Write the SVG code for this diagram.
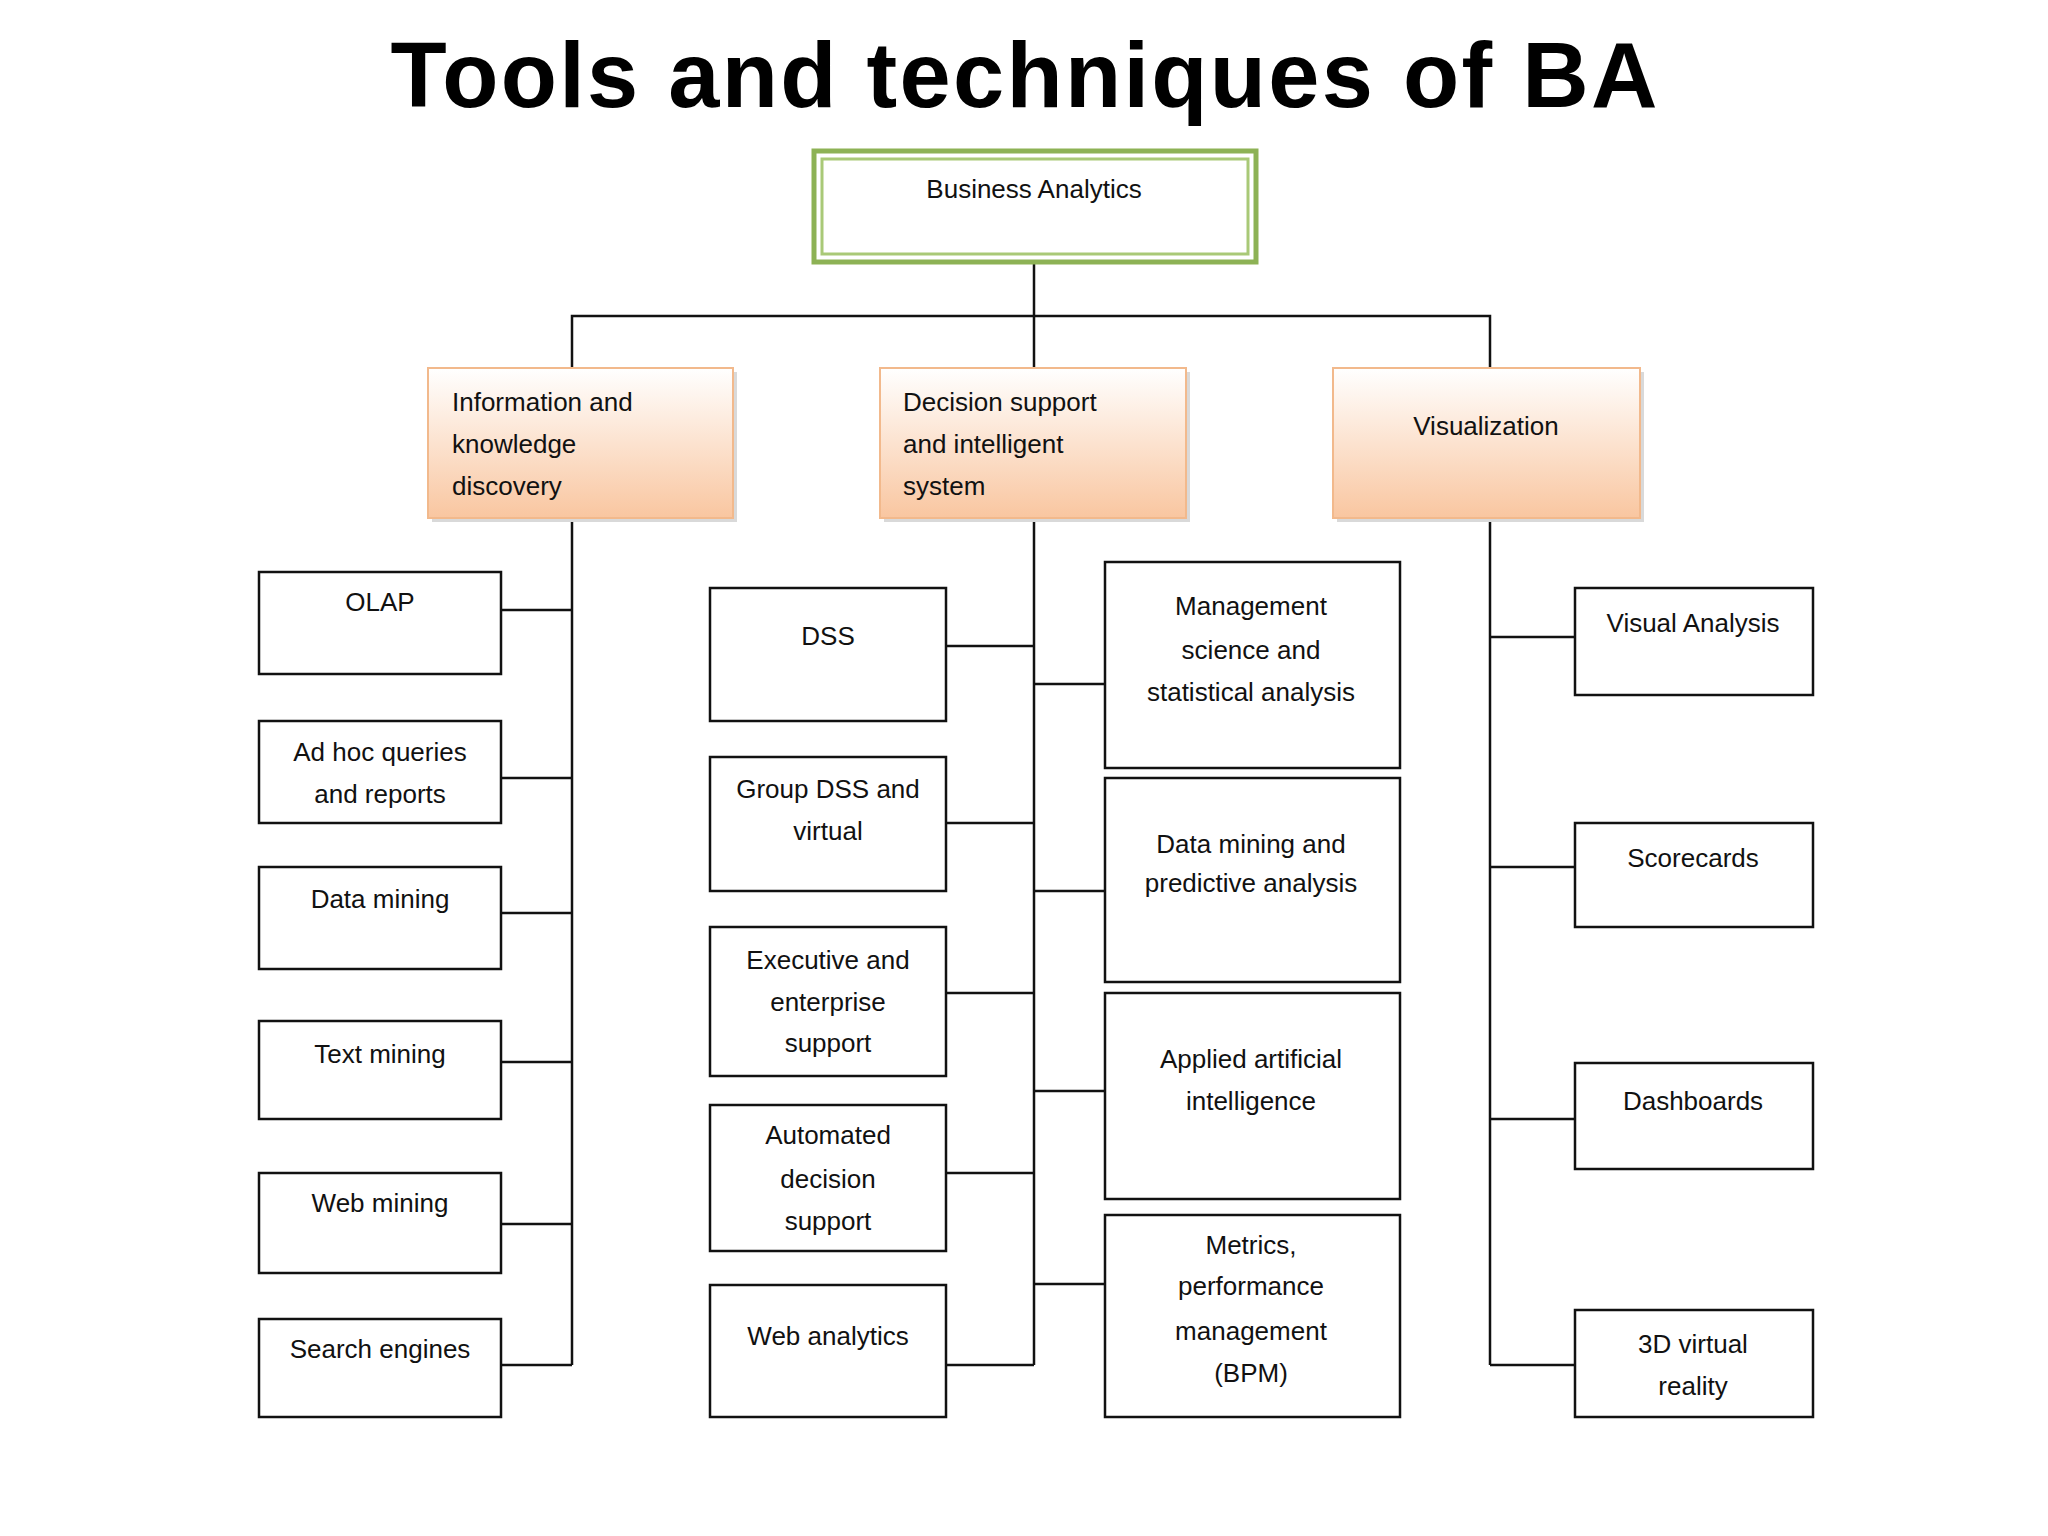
<svg xmlns="http://www.w3.org/2000/svg" width="2048" height="1536" viewBox="0 0 2048 1536">
<defs>
<linearGradient id="peach" x1="0" y1="0" x2="0" y2="1"><stop offset="0" stop-color="#ffffff"/><stop offset="1" stop-color="#f9c6a0"/></linearGradient>
<style>
.t{font-family:"Liberation Sans",Arial,sans-serif;font-size:26px;fill:#111;text-anchor:middle}
.l{text-anchor:start}
.b{fill:#fff;stroke:#111;stroke-width:2.5}
.c{fill:url(#peach);stroke:#f2b98c;stroke-width:2}
.sh{fill:#d9d9d9}
.k{stroke:#111;stroke-width:2.5;fill:none}
</style>
</defs>
<rect width="2048" height="1536" fill="#fff"/>
<text x="1024" y="107" font-family="Liberation Sans,Arial,sans-serif" font-weight="bold" font-size="92" text-anchor="middle" textLength="1267" fill="#000">Tools and techniques of BA</text>
<g id="connectors" class="k">
<path d="M1034 264V368M572 368V316H1490V368M572 518V1365M1034 518V1365M1490 518V1365"/>
<path d="M501 610H572M501 778H572M501 913H572M501 1062H572M501 1224H572M501 1365H572"/>
<path d="M946 646H1034M946 823H1034M946 993H1034M946 1173H1034M946 1365H1034"/>
<path d="M1034 684H1105M1034 891H1105M1034 1091H1105M1034 1284H1105"/>
<path d="M1490 637H1575M1490 867H1575M1490 1119H1575M1490 1365H1575"/>
</g>
<g id="root"><rect x="814" y="151" width="442" height="111" fill="#fff" stroke="#8db255" stroke-width="5"/><rect x="822" y="159" width="426" height="95" fill="none" stroke="#a9c977" stroke-width="3"/><text class="t" x="1034" y="198">Business Analytics</text></g>
<g id="cat1"><rect class="sh" x="432" y="372" width="305" height="150"/><rect class="c" x="428" y="368" width="305" height="150"/><text class="t l" x="452" y="411">Information and</text><text class="t l" x="452" y="453">knowledge</text><text class="t l" x="452" y="495">discovery</text></g>
<g id="cat2"><rect class="sh" x="884" y="372" width="306" height="150"/><rect class="c" x="880" y="368" width="306" height="150"/><text class="t l" x="903" y="411">Decision support</text><text class="t l" x="903" y="453">and intelligent</text><text class="t l" x="903" y="495">system</text></g>
<g id="cat3"><rect class="sh" x="1337" y="372" width="307" height="150"/><rect class="c" x="1333" y="368" width="307" height="150"/><text class="t" x="1486" y="435">Visualization</text></g>
<g id="olap"><rect class="b" x="259" y="572" width="242" height="102"/><text class="t" x="380" y="611">OLAP</text></g>
<g id="adhoc"><rect class="b" x="259" y="721" width="242" height="102"/><text class="t" x="380" y="761">Ad hoc queries</text><text class="t" x="380" y="803">and reports</text></g>
<g id="dm"><rect class="b" x="259" y="867" width="242" height="102"/><text class="t" x="380" y="908">Data mining</text></g>
<g id="tm"><rect class="b" x="259" y="1021" width="242" height="98"/><text class="t" x="380" y="1063">Text mining</text></g>
<g id="wm"><rect class="b" x="259" y="1173" width="242" height="100"/><text class="t" x="380" y="1212">Web mining</text></g>
<g id="se"><rect class="b" x="259" y="1319" width="242" height="98"/><text class="t" x="380" y="1358">Search engines</text></g>
<g id="dss"><rect class="b" x="710" y="588" width="236" height="133"/><text class="t" x="828" y="645">DSS</text></g>
<g id="gdss"><rect class="b" x="710" y="757" width="236" height="134"/><text class="t" x="828" y="798">Group DSS and</text><text class="t" x="828" y="840">virtual</text></g>
<g id="exec"><rect class="b" x="710" y="927" width="236" height="149"/><text class="t" x="828" y="969">Executive and</text><text class="t" x="828" y="1011">enterprise</text><text class="t" x="828" y="1052">support</text></g>
<g id="auto"><rect class="b" x="710" y="1105" width="236" height="146"/><text class="t" x="828" y="1144">Automated</text><text class="t" x="828" y="1188">decision</text><text class="t" x="828" y="1230">support</text></g>
<g id="wa"><rect class="b" x="710" y="1285" width="236" height="132"/><text class="t" x="828" y="1345">Web analytics</text></g>
<g id="mgmt"><rect class="b" x="1105" y="562" width="295" height="206"/><text class="t" x="1251" y="615">Management</text><text class="t" x="1251" y="659">science and</text><text class="t" x="1251" y="701">statistical analysis</text></g>
<g id="dmp"><rect class="b" x="1105" y="778" width="295" height="204"/><text class="t" x="1251" y="853">Data mining and</text><text class="t" x="1251" y="892">predictive analysis</text></g>
<g id="ai"><rect class="b" x="1105" y="993" width="295" height="206"/><text class="t" x="1251" y="1068">Applied artificial</text><text class="t" x="1251" y="1110">intelligence</text></g>
<g id="bpm"><rect class="b" x="1105" y="1215" width="295" height="202"/><text class="t" x="1251" y="1254">Metrics,</text><text class="t" x="1251" y="1295">performance</text><text class="t" x="1251" y="1340">management</text><text class="t" x="1251" y="1382">(BPM)</text></g>
<g id="va"><rect class="b" x="1575" y="588" width="238" height="107"/><text class="t" x="1693" y="632">Visual Analysis</text></g>
<g id="sc"><rect class="b" x="1575" y="823" width="238" height="104"/><text class="t" x="1693" y="867">Scorecards</text></g>
<g id="db"><rect class="b" x="1575" y="1063" width="238" height="106"/><text class="t" x="1693" y="1110">Dashboards</text></g>
<g id="vr"><rect class="b" x="1575" y="1310" width="238" height="107"/><text class="t" x="1693" y="1353">3D virtual</text><text class="t" x="1693" y="1395">reality</text></g>
</svg>
